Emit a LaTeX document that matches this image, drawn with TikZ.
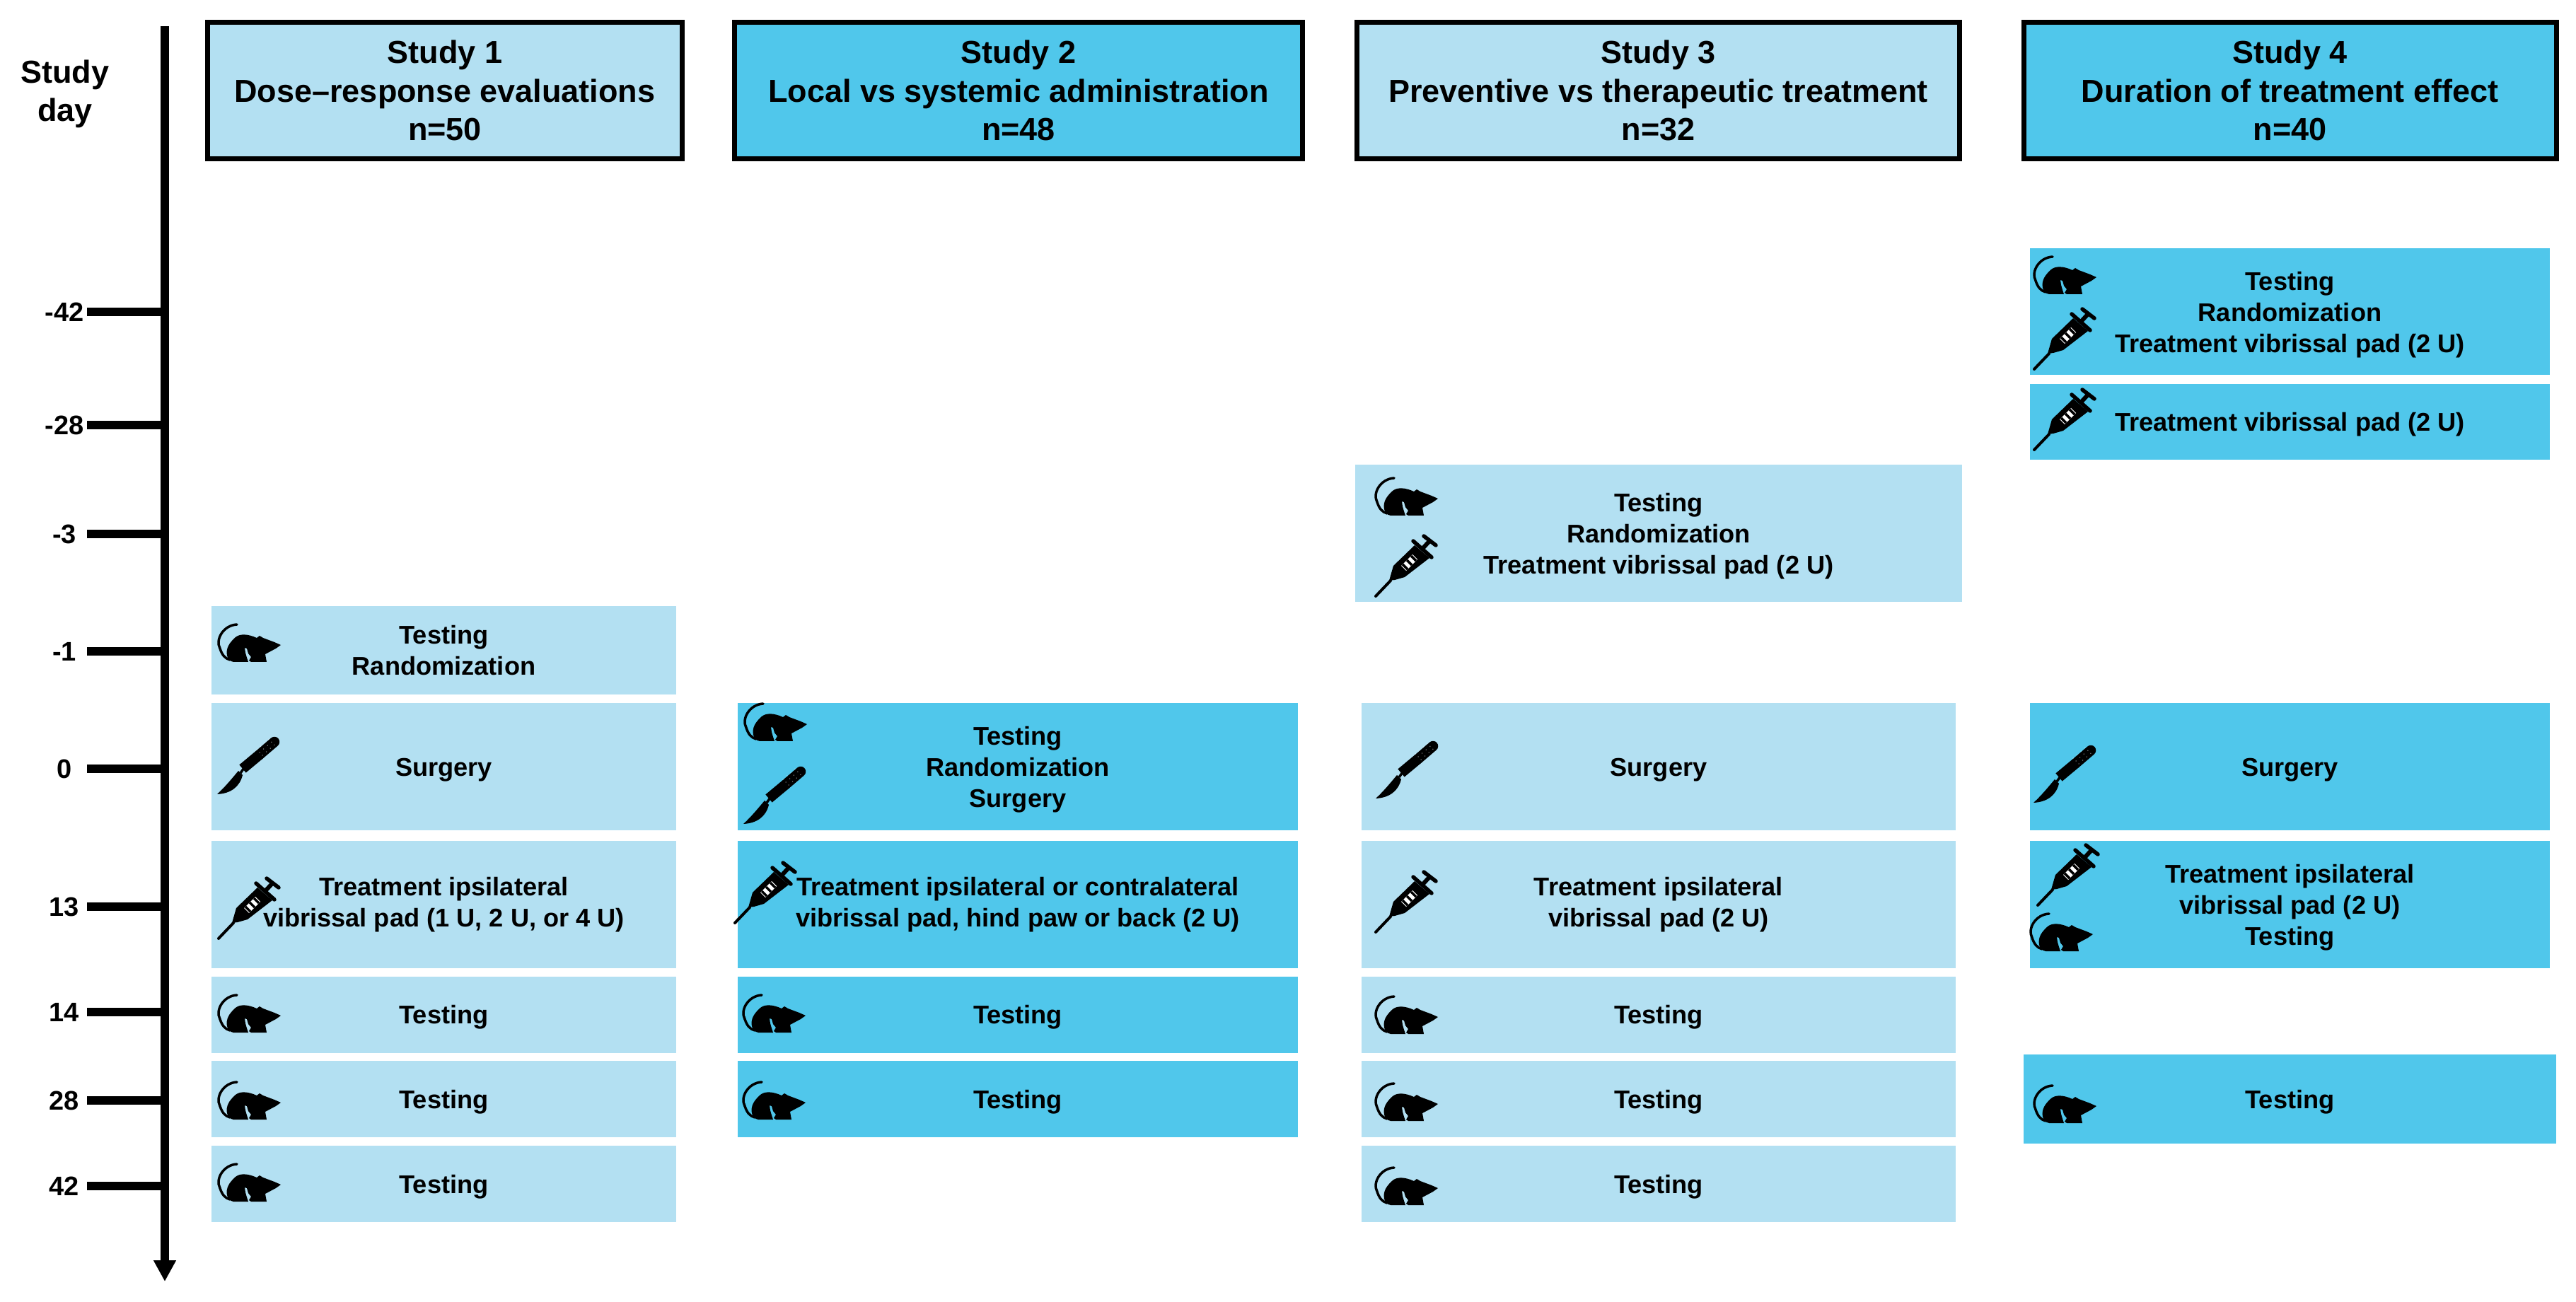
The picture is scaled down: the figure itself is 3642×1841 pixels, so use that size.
\documentclass[tikz,border=0pt]{standalone}
\usepackage{fontspec}
\setmainfont{Liberation Sans}
\usetikzlibrary{arrows.meta,positioning,calc}
\definecolor{studylight}{HTML}{B3E0F2}
\definecolor{studydark}{HTML}{50C7EB}
\newcommand{\toprow}{\rule{0pt}{10pt}}

\tikzset{
  rat/.pic={
    \draw[line width=0.35mm, line cap=round] (27,1) .. controls (8,2) and (-4,22) .. (3,35) .. controls (6,44) and (10,49) .. (17,51);
    \fill (13,45) .. controls (11,35) and (16,27) .. (25,19) .. controls (31,14) and (42,14) .. (55,20)
      -- (59,17) -- (64,20) -- (80,26) -- (89,30) -- (82,35) -- (67,43) -- (69,54) -- (47,54)
      -- (44,52) -- (47,47) -- (43,42) -- (41,35) -- (38,34) -- (39,41) -- (41,48) -- (43,54) -- (22,54)
      .. controls (17,53) and (14,50) .. (13,45) -- cycle;
  },
  scalpel/.pic={
    \draw[line width=1.45mm, line cap=round] (81,9) -- (60,27);
    \draw[line width=1.45mm, line cap=butt] (60,27) -- (36,47);
    \fill (30,50) -- (36,56) .. controls (32,72) and (20,82) .. (0,83) .. controls (10,74) and (20,62) .. (30,50) -- cycle;
    \draw[line width=0.35mm] (33,53) -- (38,46);
    \foreach \i in {0,1,2,3} {
      \fill[white, opacity=0.55] (60+\i*5.6,24-\i*4.9) circle (0.75);
      \fill[white, opacity=0.55] (56+\i*5.6,20-\i*4.9) circle (0.75);
      \fill[white, opacity=0.55] (64+\i*5.6,28-\i*4.9) circle (0.75);
    }
  },
  syringe/.pic={
    \draw[line width=0.4mm, line cap=round] (1,87) -- (22,65);
    \fill (20,65) -- (26,44) -- (56,15) -- (77,33) -- (42,60) -- (28,64) -- cycle;
    \draw[line width=0.55mm, line cap=round] (54,9) -- (80,32);
    \draw[line width=0.6mm] (66,21) -- (78,8);
    \draw[line width=0.55mm, line cap=round] (69,2) -- (86,15);
    \fill[white] (37,44) -- (53,28) -- (60,35) -- (44,51) -- cycle;
    \foreach \i in {0,1,2} {
      \draw[line width=0.35mm] (39+\i*6,42-\i*6) -- (46+\i*6,49-\i*6);
    }
  },
}

\begin{document}
\begin{tikzpicture}[
  x=0.1mm, y=-0.1mm,
  headtext/.style={font=\bfseries\fontsize{12.8}{15.5}\selectfont, align=center, inner sep=0pt, outer sep=0pt},
  header/.style={headtext, draw=black, line width=0.7mm, minimum height=19.3mm},
  entry/.style={font=\bfseries\fontsize{10.3}{12.5}\selectfont, align=center, inner sep=0pt, outer sep=0pt,
    execute at begin node={\rule{0pt}{9.8pt}}},
  bigrow/.style={minimum height=18mm},
  smallrow/.style={minimum height=10.8mm},
  studyone/.style={entry, fill=studylight, minimum width=65.7mm},
  studytwo/.style={entry, fill=studydark, minimum width=79.2mm},
  studythree/.style={entry, fill=studylight, minimum width=84mm},
  studyfour/.style={entry, fill=studydark, minimum width=73.5mm},
  daylabel/.style={font=\bfseries\fontsize{10.8}{13}\selectfont, inner sep=0pt},
  axisline/.style={-{Triangle[length=3mm, width=3mm]}, line width=1.2mm},
  tickline/.style={line width=1.25mm},
]
  \useasboundingbox (0,0) rectangle (3642,1841);

  % Time axis
  \coordinate (axtop) at (233,37);
  \coordinate (axend) at (233,1812);
  \draw[axisline] (axtop) -- (axend);
  \node[headtext] (dayhead) at (92,133) {Study\\day};

  % Ticks and day labels
  \foreach \lab/\ypos [count=\i] in {-42/441,-28/601,-3/755,-1/921,0/1087,13/1282,14/1431,28/1556,42/1677} {
    \coordinate (tick\i) at (123,\ypos);
    \node[daylabel] (day\i) at (91,\ypos) {\lab};
    \draw[tickline] (tick\i) -- (tick\i -| axtop);
  }

  % Study headers
  \node[header, fill=studylight, minimum width=67.1mm] (headone) at (629,128) {Study 1\\Dose--response evaluations\\n=50};
  \node[header, fill=studydark, minimum width=80.3mm] (headtwo) at (1440,128) {Study 2\\Local vs systemic administration\\n=48};
  \node[header, fill=studylight, minimum width=85.2mm] (headthree) at (2344.5,128) {Study 3\\Preventive vs therapeutic treatment\\n=32};
  \node[header, fill=studydark, minimum width=75.3mm] (headfour) at (3237.5,128) {Study 4\\Duration of treatment effect\\n=40};

  % Study 1
  \node[studyone, minimum height=12.5mm] (onea) at (627.5,919.5) {Testing\\Randomization};
  \node[studyone, bigrow] (oneb) at (627.5,1084) {Surgery};
  \node[studyone, bigrow] (onec) at (627.5,1279) {Treatment ipsilateral\\vibrissal pad (1 U, 2 U, or 4 U)};
  \node[studyone, smallrow] (oned) at (627.5,1434.5) {Testing};
  \node[studyone, smallrow] (onee) at (627.5,1554) {Testing};
  \node[studyone, smallrow] (onef) at (627.5,1674) {Testing};

  % Study 2
  \node[studytwo, bigrow] (twoa) at (1439,1084) {\toprow Testing\\Randomization\\Surgery};
  \node[studytwo, bigrow] (twob) at (1439,1279) {Treatment ipsilateral or contralateral\\vibrissal pad, hind paw or back (2 U)};
  \node[studytwo, smallrow] (twoc) at (1439,1434.5) {Testing};
  \node[studytwo, smallrow] (twod) at (1439,1554) {Testing};

  % Study 3
  \node[entry, fill=studylight, minimum width=85.8mm, minimum height=19.4mm] (threea) at (2345,754) {\toprow Testing\\Randomization\\Treatment vibrissal pad (2 U)};
  \node[studythree, bigrow] (threeb) at (2345,1084) {Surgery};
  \node[studythree, bigrow] (threec) at (2345,1279) {Treatment ipsilateral\\vibrissal pad (2 U)};
  \node[studythree, smallrow] (threed) at (2345,1434.5) {Testing};
  \node[studythree, smallrow] (threee) at (2345,1554) {Testing};
  \node[studythree, smallrow] (threef) at (2345,1674) {Testing};

  % Study 4
  \node[studyfour, minimum height=17.9mm] (foura) at (3237.5,441) {\toprow Testing\\Randomization\\Treatment vibrissal pad (2 U)};
  \node[studyfour, minimum height=10.7mm] (fourb) at (3237.5,596.5) {Treatment vibrissal pad (2 U)};
  \node[studyfour, bigrow] (fourc) at (3237.5,1084) {Surgery};
  \node[studyfour, bigrow] (fourd) at (3237.5,1279) {\toprow Treatment ipsilateral\\vibrissal pad (2 U)\\Testing};
  \node[entry, fill=studydark, minimum width=75.3mm, minimum height=12.6mm] (foure) at (3237.5,1554) {Testing};

  % Icons
  \foreach \px/\py in {308/882,308/1406,308/1529,308/1645,1052/994,1050/1406,1050/1529,1944/675,1944/1408,1944/1531,1944/1650,2875/362,2870/1291,2875/1534} {
    \pic at (\px,\py) {rat};
  }
  \foreach \px/\py in {307/1040,1051/1082,1945/1046,2875/1052} {
    \pic at (\px,\py) {scalpel};
  }
  \foreach \px/\py in {308/1240,1038/1218,1944/756,1944/1231,2875/435,2875/549,2880/1193} {
    \pic at (\px,\py) {syringe};
  }
\end{tikzpicture}
\end{document}
